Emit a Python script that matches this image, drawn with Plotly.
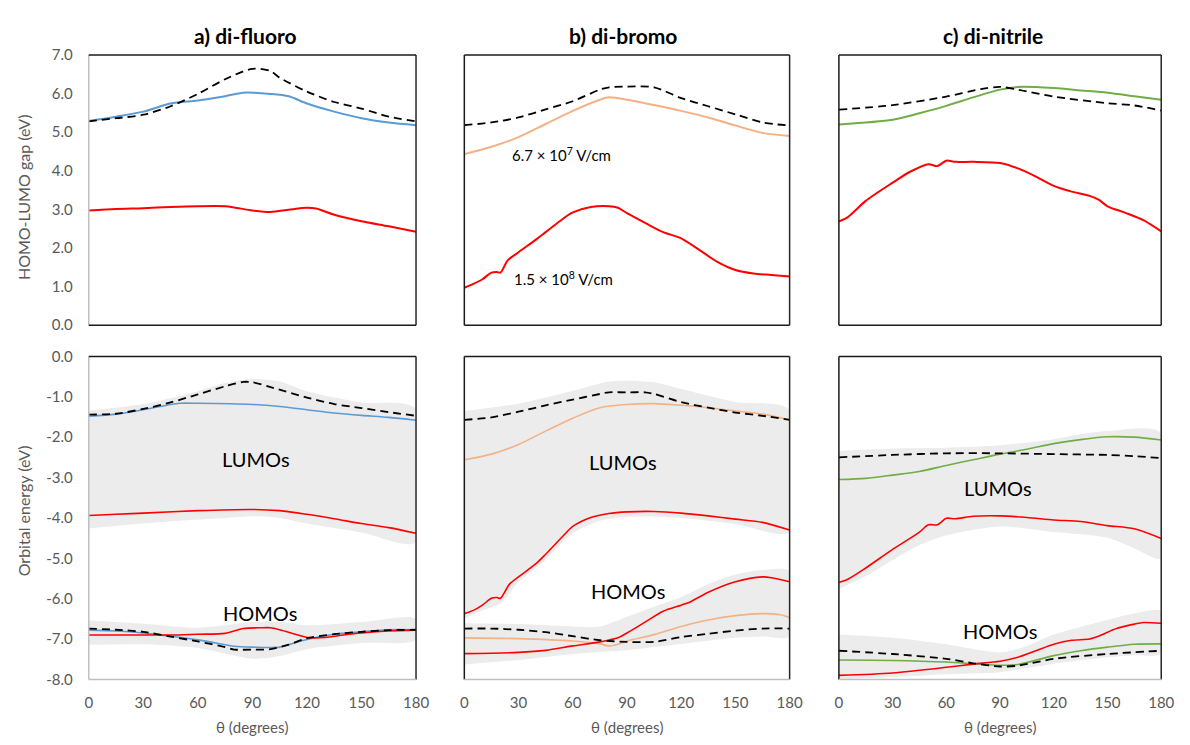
import plotly.graph_objects as go

# ---------------- DATA ----------------
# Top row: HOMO-LUMO gap (eV) vs theta (degrees)
# a) di-fluoro
a_gap_neutral_x = [0, 15, 30, 45, 60, 75, 90, 100, 105, 120, 135, 150, 165, 180]
a_gap_neutral_y = [5.28, 5.36, 5.45, 5.67, 5.99, 6.37, 6.64, 6.58, 6.41, 6.05, 5.78, 5.61, 5.40, 5.28]
a_gap_low_x = [0, 15, 30, 45, 60, 75, 85, 100, 110, 120, 135, 150, 165, 180]
a_gap_low_y = [5.29, 5.40, 5.53, 5.74, 5.82, 5.93, 6.02, 5.99, 5.93, 5.74, 5.53, 5.36, 5.25, 5.18]
a_gap_high_x = [0, 15, 30, 45, 60, 75, 80, 90, 100, 110, 120, 125, 135, 150, 165, 180]
a_gap_high_y = [2.97, 3.01, 3.03, 3.06, 3.08, 3.08, 3.05, 2.97, 2.93, 2.99, 3.04, 3.02, 2.86, 2.69, 2.56, 2.42]

# b) di-bromo
b_gap_neutral_x = [0, 15, 30, 45, 60, 75, 80, 90, 105, 120, 135, 150, 165, 180]
b_gap_neutral_y = [5.18, 5.25, 5.38, 5.59, 5.80, 6.10, 6.16, 6.18, 6.16, 5.88, 5.67, 5.46, 5.25, 5.17]
b_gap_low_x = [0, 15, 30, 45, 60, 75, 80, 90, 105, 120, 135, 150, 165, 180]
b_gap_low_y = [4.43, 4.62, 4.87, 5.21, 5.55, 5.84, 5.90, 5.84, 5.70, 5.55, 5.38, 5.17, 4.98, 4.90]
b_gap_high_x = [0, 5, 10, 15, 18, 20, 24, 30, 40, 45, 55, 60, 70, 80, 85, 90, 100, 110, 120, 130, 140, 150, 160, 170, 180]
b_gap_high_y = [0.97, 1.07, 1.19, 1.36, 1.38, 1.36, 1.68, 1.89, 2.23, 2.41, 2.77, 2.92, 3.06, 3.08, 3.04, 2.90, 2.65, 2.41, 2.25, 1.95, 1.64, 1.43, 1.34, 1.30, 1.26]

# c) di-nitrile
c_gap_neutral_x = [0, 30, 60, 80, 90, 100, 120, 150, 165, 180]
c_gap_neutral_y = [5.58, 5.70, 5.92, 6.12, 6.17, 6.10, 5.92, 5.75, 5.69, 5.56]
c_gap_low_x = [0, 30, 45, 60, 75, 90, 100, 120, 135, 150, 165, 180]
c_gap_low_y = [5.20, 5.32, 5.49, 5.68, 5.90, 6.10, 6.17, 6.14, 6.08, 6.02, 5.93, 5.84]
c_gap_high_x = [0, 5, 15, 30, 40, 50, 55, 60, 65, 75, 90, 100, 110, 120, 130, 140, 145, 150, 160, 170, 180]
c_gap_high_y = [2.69, 2.80, 3.22, 3.69, 3.98, 4.17, 4.12, 4.26, 4.23, 4.23, 4.20, 4.06, 3.85, 3.61, 3.46, 3.35, 3.25, 3.08, 2.91, 2.72, 2.43]

# Bottom row: orbital energies (eV)
# a) di-fluoro
a_lumo_neutral_x = [0, 15, 30, 45, 60, 75, 85, 90, 100, 120, 135, 150, 165, 180]
a_lumo_neutral_y = [-1.44, -1.42, -1.30, -1.14, -0.94, -0.74, -0.63, -0.64, -0.76, -1.02, -1.18, -1.28, -1.38, -1.47]
a_lumo_low_x = [0, 15, 30, 45, 50, 60, 90, 105, 120, 135, 150, 165, 180]
a_lumo_low_y = [-1.48, -1.43, -1.32, -1.19, -1.16, -1.16, -1.19, -1.24, -1.32, -1.40, -1.46, -1.51, -1.58]
a_lumo_high_x = [0, 15, 30, 60, 90, 105, 120, 135, 150, 165, 180]
a_lumo_high_y = [-3.94, -3.91, -3.88, -3.82, -3.79, -3.82, -3.91, -4.02, -4.14, -4.24, -4.38]
a_homo_neutral_x = [0, 15, 30, 45, 60, 75, 80, 90, 100, 110, 120, 135, 150, 165, 180]
a_homo_neutral_y = [-6.74, -6.77, -6.82, -6.94, -7.06, -7.20, -7.26, -7.26, -7.25, -7.14, -6.98, -6.88, -6.82, -6.78, -6.77]
a_homo_low_x = [0, 15, 30, 45, 60, 75, 80, 90, 105, 110, 120, 135, 150, 165, 180]
a_homo_low_y = [-6.78, -6.80, -6.85, -6.93, -7.02, -7.14, -7.18, -7.20, -7.20, -7.14, -7.01, -6.88, -6.82, -6.77, -6.77]
a_homo_high_x = [0, 15, 30, 45, 60, 75, 85, 95, 100, 105, 115, 120, 130, 140, 150, 165, 180]
a_homo_high_y = [-6.90, -6.90, -6.90, -6.90, -6.88, -6.86, -6.74, -6.72, -6.72, -6.77, -6.90, -6.96, -6.96, -6.90, -6.85, -6.80, -6.78]
a_lumo_band_x = [0, 30, 60, 75, 90, 105, 120, 150, 180]
a_lumo_band_top = [-1.34, -1.18, -0.86, -0.66, -0.56, -0.62, -0.86, -1.14, -1.30]
a_lumo_band_bot = [-4.26, -4.14, -4.04, -4.00, -3.96, -4.00, -4.14, -4.36, -4.60]
a_homo_band_x = [0, 30, 60, 75, 90, 105, 120, 150, 180]
a_homo_band_top = [-6.54, -6.62, -6.72, -6.66, -6.58, -6.57, -6.66, -6.58, -6.50]
a_homo_band_bot = [-7.14, -7.13, -7.22, -7.36, -7.49, -7.42, -7.25, -7.10, -7.02]

# b) di-bromo
b_lumo_neutral_x = [0, 15, 30, 45, 60, 75, 80, 90, 100, 105, 120, 135, 150, 165, 180]
b_lumo_neutral_y = [-1.57, -1.51, -1.37, -1.21, -1.07, -0.93, -0.89, -0.89, -0.89, -0.93, -1.13, -1.27, -1.39, -1.47, -1.57]
b_lumo_low_x = [0, 15, 30, 45, 60, 75, 90, 105, 120, 135, 150, 165, 180]
b_lumo_low_y = [-2.56, -2.42, -2.18, -1.85, -1.53, -1.27, -1.19, -1.17, -1.21, -1.27, -1.35, -1.43, -1.57]
b_lumo_high_x = [0, 5, 10, 15, 18, 20, 25, 30, 40, 45, 55, 60, 70, 80, 90, 105, 120, 135, 150, 165, 180]
b_lumo_high_y = [-6.37, -6.29, -6.16, -5.99, -5.97, -5.99, -5.64, -5.46, -5.12, -4.90, -4.43, -4.21, -3.99, -3.89, -3.85, -3.84, -3.88, -3.95, -4.03, -4.11, -4.30]
b_homo_neutral_x = [0, 15, 30, 45, 60, 75, 90, 105, 120, 135, 150, 165, 180]
b_homo_neutral_y = [-6.74, -6.74, -6.77, -6.83, -6.93, -7.03, -7.07, -7.07, -6.95, -6.87, -6.79, -6.74, -6.74]
b_homo_low_x = [0, 30, 60, 75, 80, 85, 90, 105, 120, 135, 150, 165, 175, 180]
b_homo_low_y = [-6.97, -6.99, -7.05, -7.12, -7.17, -7.13, -7.05, -6.89, -6.69, -6.53, -6.42, -6.37, -6.40, -6.47]
b_homo_high_x = [0, 30, 45, 60, 75, 85, 90, 100, 110, 120, 125, 135, 150, 165, 170, 180]
b_homo_high_y = [-7.36, -7.33, -7.28, -7.17, -7.07, -6.97, -6.85, -6.58, -6.31, -6.16, -6.08, -5.84, -5.58, -5.46, -5.48, -5.58]
b_lumo_band_x = [0, 30, 60, 80, 90, 105, 120, 150, 180]
b_lumo_band_top = [-1.35, -1.17, -0.85, -0.62, -0.60, -0.64, -0.81, -1.13, -1.33]
b_lumo_band2_x = [0, 10, 20, 30, 45, 60, 75, 90, 120, 150, 180]
b_lumo_band_bot = [-6.49, -6.29, -6.12, -5.59, -5.04, -4.38, -4.07, -3.97, -4.00, -4.15, -4.35]
b_homo_band_x = [0, 30, 60, 75, 90, 105, 120, 135, 150, 165, 180]
b_homo_band_top = [-6.61, -6.63, -6.69, -6.69, -6.45, -6.20, -5.96, -5.64, -5.40, -5.29, -5.32]
b_homo_band_bot = [-7.63, -7.52, -7.37, -7.32, -7.28, -7.20, -7.12, -7.04, -6.97, -6.94, -6.93]

# c) di-nitrile
c_lumo_neutral_x = [0, 30, 60, 90, 120, 150, 165, 180]
c_lumo_neutral_y = [-2.50, -2.44, -2.40, -2.40, -2.42, -2.44, -2.47, -2.52]
c_lumo_low_x = [0, 15, 30, 45, 60, 75, 90, 105, 120, 135, 150, 165, 180]
c_lumo_low_y = [-3.05, -3.02, -2.94, -2.85, -2.70, -2.56, -2.42, -2.30, -2.16, -2.06, -1.99, -2.00, -2.07]
c_lumo_high_x = [0, 5, 15, 30, 45, 50, 55, 60, 65, 75, 90, 105, 120, 135, 150, 165, 180]
c_lumo_high_y = [-5.60, -5.52, -5.24, -4.78, -4.35, -4.17, -4.17, -4.01, -4.02, -3.96, -3.95, -3.99, -4.05, -4.09, -4.19, -4.27, -4.51]
c_homo_neutral_x = [0, 30, 60, 75, 90, 100, 120, 150, 180]
c_homo_neutral_y = [-7.29, -7.37, -7.49, -7.60, -7.68, -7.66, -7.49, -7.37, -7.29]
c_homo_low_x = [0, 30, 60, 75, 90, 100, 120, 135, 150, 165, 180]
c_homo_low_y = [-7.52, -7.53, -7.57, -7.61, -7.65, -7.63, -7.41, -7.29, -7.20, -7.13, -7.12]
c_homo_high_x = [0, 30, 60, 75, 90, 100, 110, 120, 130, 140, 145, 155, 165, 170, 180]
c_homo_high_y = [-7.90, -7.84, -7.70, -7.62, -7.55, -7.45, -7.29, -7.13, -7.03, -7.00, -6.93, -6.74, -6.63, -6.59, -6.61]
c_lumo_band_x = [0, 30, 60, 90, 120, 135, 150, 180]
c_lumo_band_top = [-2.34, -2.28, -2.26, -2.20, -2.05, -1.93, -1.85, -1.89]
c_lumo_band2_x = [0, 15, 30, 45, 60, 90, 120, 150, 165, 180]
c_lumo_band_bot = [-5.76, -5.44, -5.04, -4.67, -4.43, -4.21, -4.35, -4.49, -4.75, -5.00]
c_homo_band_x = [0, 30, 60, 90, 105, 120, 150, 165, 180]
c_homo_band_top = [-6.89, -6.97, -7.13, -7.33, -7.17, -6.89, -6.53, -6.37, -6.31]
c_homo_band_bot = [-8.00, -7.94, -7.87, -7.82, -7.72, -7.61, -7.45, -7.40, -7.36]

panel_titles = ["a) di-fluoro", "b) di-bromo", "c) di-nitrile"]
x_ticks = [0, 30, 60, 90, 120, 150, 180]
gap_ticks = [0, 1, 2, 3, 4, 5, 6, 7]
orb_ticks = [0, -1, -2, -3, -4, -5, -6, -7, -8]

# ---------------- STYLE ----------------
FONT = "Lato, Open Sans, sans-serif"
GREY_TXT = "#595959"
BAND = "rgb(236,236,236)"
RED = "#FF0000"
BLUE = "#5B9BD5"
ORANGE = "#F4B183"
GREEN = "#70AD47"
DASH = "8px,5px"

W, H = 1190, 745
xdom = [(86 / W, 418 / W), (467 / W, 797 / W), (847 / W, 1174 / W)]
ydom_top = (1 - 323 / H, 1 - 46 / H)
ydom_bot = (1 - 686 / H, 1 - 355 / H)

fig = go.Figure()


def ax_names(row, col):
    idx = (row - 1) * 3 + col
    s = "" if idx == 1 else str(idx)
    return "x" + s, "y" + s


def add_line(row, col, xs, ys, color, dash=None, width=2.0):
    xa, ya = ax_names(row, col)
    fig.add_trace(go.Scatter(
        x=xs, y=ys, mode="lines", xaxis=xa, yaxis=ya,
        line=dict(color=color, width=width, dash=dash, shape="spline", smoothing=0.8),
        showlegend=False, hoverinfo="skip"))


def add_band(row, col, xt, top, xb, bot):
    xa, ya = ax_names(row, col)
    fig.add_trace(go.Scatter(
        x=xt + xb[::-1], y=top + bot[::-1], mode="lines", xaxis=xa, yaxis=ya,
        fill="toself", fillcolor=BAND,
        line=dict(width=0, color=BAND, shape="spline", smoothing=0.8),
        showlegend=False, hoverinfo="skip"))


# Bands (bottom row)
add_band(2, 1, a_lumo_band_x, a_lumo_band_top, a_lumo_band_x, a_lumo_band_bot)
add_band(2, 1, a_homo_band_x, a_homo_band_top, a_homo_band_x, a_homo_band_bot)
add_band(2, 2, b_lumo_band_x, b_lumo_band_top, b_lumo_band2_x, b_lumo_band_bot)
add_band(2, 2, b_homo_band_x, b_homo_band_top, b_homo_band_x, b_homo_band_bot)
add_band(2, 3, c_lumo_band_x, c_lumo_band_top, c_lumo_band2_x, c_lumo_band_bot)
add_band(2, 3, c_homo_band_x, c_homo_band_top, c_homo_band_x, c_homo_band_bot)

# Top row lines
add_line(1, 1, a_gap_low_x, a_gap_low_y, BLUE)
add_line(1, 1, a_gap_high_x, a_gap_high_y, RED)
add_line(1, 1, a_gap_neutral_x, a_gap_neutral_y, "black", DASH, 1.8)
add_line(1, 2, b_gap_low_x, b_gap_low_y, ORANGE)
add_line(1, 2, b_gap_high_x, b_gap_high_y, RED)
add_line(1, 2, b_gap_neutral_x, b_gap_neutral_y, "black", DASH, 1.8)
add_line(1, 3, c_gap_low_x, c_gap_low_y, GREEN)
add_line(1, 3, c_gap_high_x, c_gap_high_y, RED)
add_line(1, 3, c_gap_neutral_x, c_gap_neutral_y, "black", DASH, 1.8)

# Bottom row lines
add_line(2, 1, a_lumo_low_x, a_lumo_low_y, BLUE, width=1.6)
add_line(2, 1, a_lumo_high_x, a_lumo_high_y, RED, width=1.6)
add_line(2, 1, a_lumo_neutral_x, a_lumo_neutral_y, "black", DASH, 1.8)
add_line(2, 1, a_homo_low_x, a_homo_low_y, BLUE, width=1.6)
add_line(2, 1, a_homo_high_x, a_homo_high_y, RED, width=1.6)
add_line(2, 1, a_homo_neutral_x, a_homo_neutral_y, "black", DASH, 1.8)
add_line(2, 2, b_lumo_low_x, b_lumo_low_y, ORANGE, width=1.6)
add_line(2, 2, b_lumo_high_x, b_lumo_high_y, RED, width=1.6)
add_line(2, 2, b_lumo_neutral_x, b_lumo_neutral_y, "black", DASH, 1.8)
add_line(2, 2, b_homo_low_x, b_homo_low_y, ORANGE, width=1.6)
add_line(2, 2, b_homo_high_x, b_homo_high_y, RED, width=1.6)
add_line(2, 2, b_homo_neutral_x, b_homo_neutral_y, "black", DASH, 1.8)
add_line(2, 3, c_lumo_low_x, c_lumo_low_y, GREEN, width=1.6)
add_line(2, 3, c_lumo_high_x, c_lumo_high_y, RED, width=1.6)
add_line(2, 3, c_lumo_neutral_x, c_lumo_neutral_y, "black", DASH, 1.8)
add_line(2, 3, c_homo_low_x, c_homo_low_y, GREEN, width=1.6)
add_line(2, 3, c_homo_high_x, c_homo_high_y, RED, width=1.6)
add_line(2, 3, c_homo_neutral_x, c_homo_neutral_y, "black", DASH, 1.8)

# ---------------- AXES ----------------
layout = {}
shapes = []
tickfont = dict(family=FONT, size=15, color=GREY_TXT)
for row in (1, 2):
    for col in (1, 2, 3):
        xa, ya = ax_names(row, col)
        xkey = "xaxis" + xa[1:]
        ykey = "yaxis" + ya[1:]
        show_x = row == 2
        show_y = col == 1
        layout[xkey] = dict(
            domain=list(xdom[col - 1]), anchor=ya, range=[0, 180],
            tickvals=x_ticks, showticklabels=show_x, tickfont=tickfont,
            ticks="outside" if show_x else "", ticklen=10, tickcolor="rgba(0,0,0,0)",
            showgrid=False, zeroline=False, showline=False, fixedrange=True)
        if row == 1:
            yr, yt, tt = [0, 7], gap_ticks, [f"{v:.1f}" for v in gap_ticks]
            yd = ydom_top
        else:
            yr, yt, tt = [-8, 0], orb_ticks, [f"{v:.1f}" for v in orb_ticks]
            yd = ydom_bot
        layout[ykey] = dict(
            domain=list(yd), anchor=xa, range=yr, tickvals=yt, ticktext=tt,
            showticklabels=show_y, tickfont=tickfont,
            ticks="outside" if show_y else "", ticklen=12, tickcolor="rgba(0,0,0,0)",
            showgrid=False, zeroline=False, showline=False, fixedrange=True)
        # frame
        left_c = "#BFBFBF" if col == 1 else "#1a1a1a"
        bot_c = "#BFBFBF" if row == 2 else "#1a1a1a"
        sides = [
            (0, 0, 0, 1, left_c),
            (1, 0, 1, 1, "#262626"),
            (0, 1, 1, 1, "#1a1a1a"),
            (0, 0, 1, 0, bot_c),
        ]
        for x0, y0, x1, y1, c in sides:
            shapes.append(dict(type="line", xref=xa + " domain", yref=ya + " domain",
                               x0=x0, y0=y0, x1=x1, y1=y1,
                               line=dict(color=c, width=1.5), layer="above"))

annotations = []
title_x = [245 / W, 628 / W, 1003 / W]
for i, t in enumerate(panel_titles):
    annotations.append(dict(text=f"<b>{t}</b>", x=title_x[i], y=1 - 26 / H, xref="paper", yref="paper",
                            showarrow=False, xanchor="center", yanchor="middle",
                            font=dict(family=FONT, size=21, color="black")))
# axis titles
for cx in [(86 + 418) / 2 / W, (467 + 797) / 2 / W, (847 + 1174) / 2 / W]:
    annotations.append(dict(text="θ (degrees)", x=cx, y=1 - 735 / H, xref="paper", yref="paper",
                            showarrow=False, xanchor="center", yanchor="middle",
                            font=dict(family=FONT, size=15, color=GREY_TXT)))
annotations.append(dict(text="HOMO-LUMO gap (eV)", x=20 / W, y=1 - 192 / H, xref="paper", yref="paper",
                        showarrow=False, textangle=-90, xanchor="center", yanchor="middle",
                        font=dict(family=FONT, size=16, color=GREY_TXT)))
annotations.append(dict(text="Orbital energy (eV)", x=20 / W, y=1 - 513 / H, xref="paper", yref="paper",
                        showarrow=False, textangle=-90, xanchor="center", yanchor="middle",
                        font=dict(family=FONT, size=16, color=GREY_TXT)))

# in-plot labels
def label(row, col, x, y, text, size):
    xa, ya = ax_names(row, col)
    annotations.append(dict(text=text, x=x, y=y, xref=xa, yref=ya, showarrow=False,
                            xanchor="center", yanchor="middle",
                            font=dict(family=FONT, size=size, color="black")))

label(1, 2, 53.5, 4.42, "6.7 × 10<sup>7</sup> V/cm", 15)
label(1, 2, 55, 1.21, "1.5 × 10<sup>8</sup> V/cm", 15)
label(2, 1, 92, -2.54, "LUMOs", 20)
label(2, 1, 94, -6.35, "HOMOs", 20)
label(2, 2, 88, -2.61, "LUMOs", 20)
label(2, 2, 90.5, -5.82, "HOMOs", 20)
label(2, 3, 88.6, -3.26, "LUMOs", 20)
label(2, 3, 90, -6.81, "HOMOs", 20)

fig.update_layout(
    width=W, height=H, margin=dict(l=0, r=0, t=0, b=0),
    paper_bgcolor="white", plot_bgcolor="white",
    font=dict(family=FONT), showlegend=False,
    shapes=shapes, annotations=annotations, **layout)

fig.write_html("out.html")
